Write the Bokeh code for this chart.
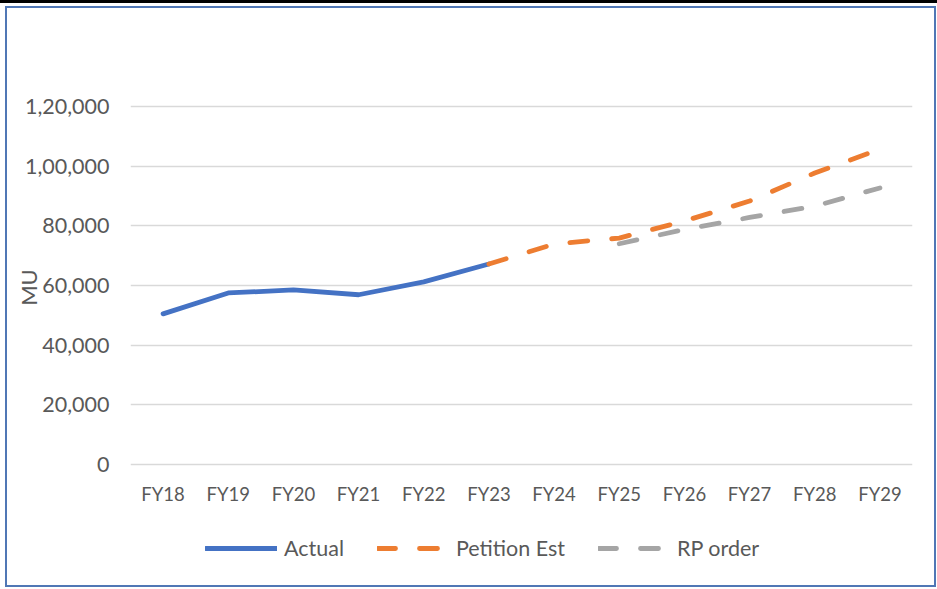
from bokeh.plotting import figure
from bokeh.models import Range1d, FixedTicker, Legend, LegendItem, FactorRange
from bokeh.embed import file_html
from bokeh.resources import INLINE

categories = ["FY18", "FY19", "FY20", "FY21", "FY22", "FY23", "FY24", "FY25", "FY26", "FY27", "FY28", "FY29"]
actual_years = ["FY18", "FY19", "FY20", "FY21", "FY22", "FY23"]
actual = [50500, 57500, 58500, 56900, 61200, 67200]
petition_years = ["FY23", "FY24", "FY25", "FY26", "FY27", "FY28", "FY29"]
petition = [67200, 73900, 75900, 81600, 88300, 97700, 105700]
rp_years = ["FY25", "FY26", "FY27", "FY28", "FY29"]
rp_order = [74000, 78800, 82800, 86600, 92700]
y_ticks = [0, 20000, 40000, 60000, 80000, 100000, 120000]
y_tick_labels = ["0", "20,000", "40,000", "60,000", "80,000", "1,00,000", "1,20,000"]

FONT = "Lato"
TXT = "#595959"

# the frame spans the whole height (title space above, legend below); only 0..120000 is gridded
Y_MIN = -34190
Y_MAX = 152850

p = figure(x_range=FactorRange(*categories, range_padding=0), y_range=Range1d(Y_MIN, Y_MAX),
           width=931, height=581, output_backend="svg", toolbar_location=None,
           min_border_left=123, min_border_right=26, min_border_top=0, min_border_bottom=23)
p.styles = {"border": "2px solid #5077B5", "box-sizing": "border-box",
            "margin-left": "5px", "margin-top": "6px",
            "box-shadow": "0 3px 0 6px white, 0 0 0 6px black"}
p.outline_line_color = None
p.background_fill_color = "white"
p.border_fill_color = "white"

p.xgrid.grid_line_color = None
p.ygrid.grid_line_color = "#D9D9D9"
p.ygrid.grid_line_width = 1.5
p.yaxis.ticker = FixedTicker(ticks=y_ticks)
p.yaxis.major_label_overrides = dict(zip(y_ticks, y_tick_labels))

for ax in (p.xaxis[0], p.yaxis[0]):
    ax.axis_line_color = None
    ax.major_tick_line_color = None
    ax.minor_tick_line_color = None
    ax.major_label_text_color = TXT
    ax.major_label_text_font = FONT
p.yaxis.major_label_text_font_size = "21.5px"
p.yaxis.major_label_standoff = 15
p.yaxis.axis_label = "MU"
p.yaxis.axis_label_text_font = FONT
p.yaxis.axis_label_text_font_style = "normal"
p.yaxis.axis_label_text_font_size = "22px"
p.yaxis.axis_label_text_color = TXT
p.yaxis.axis_label_standoff = -20
p.xaxis.fixed_location = 0
p.xaxis.major_label_text_font_size = "18.5px"
p.xaxis.major_label_standoff = 12

r_act = p.line(actual_years, actual, line_color="#4472C4", line_width=4.8, line_cap="round", line_join="round")
r_pet = p.line(petition_years, petition, line_color="#ED7D31", line_width=4.8, line_cap="round",
               line_dash="18 24")
r_rp = p.line(rp_years, rp_order, line_color="#A5A5A5", line_width=4.8, line_cap="round",
              line_dash="18 24")

legend = Legend(items=[LegendItem(label="Actual", renderers=[r_act]),
                       LegendItem(label="Petition Est", renderers=[r_pet]),
                       LegendItem(label="RP order", renderers=[r_rp])],
                orientation="horizontal", location=(75, 5), padding=0, margin=0,
                glyph_width=72, label_standoff=7, spacing=33,
                label_text_font=FONT, label_text_font_size="21.5px", label_text_color=TXT,
                border_line_color=None, background_fill_alpha=0)
p.add_layout(legend, "center")

open("out.html", "w").write(file_html(p, INLINE))
